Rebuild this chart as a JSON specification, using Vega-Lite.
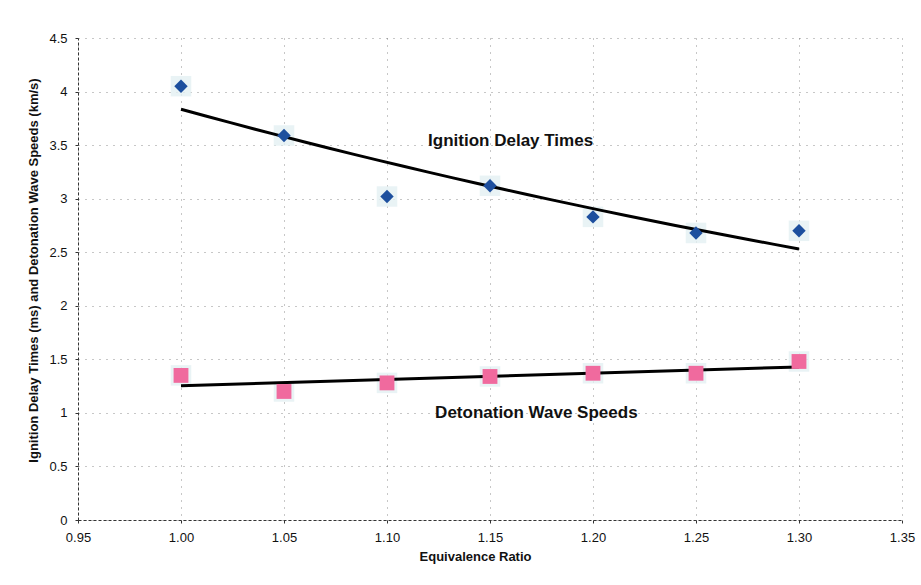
{
  "$schema": "https://vega.github.io/schema/vega-lite/v6.json",
  "width": 824,
  "height": 482,
  "autosize": "none",
  "padding": {"left": 78, "top": 38, "right": 19, "bottom": 65},
  "background": "white",
  "config": {
    "view": {"stroke": null},
    "font": "Liberation Sans",
    "axis": {
      "labelFont": "Liberation Sans",
      "titleFont": "Liberation Sans",
      "labelColor": "#111",
      "titleColor": "#111",
      "domainColor": "#333",
      "domainDash": [3, 2],
      "tickColor": "#333",
      "tickSize": 3,
      "gridColor": "#444",
      "gridDash": [1, 6],
      "gridOpacity": 0.6,
      "labelFontSize": 13,
      "titleFontSize": 13,
      "titleFontWeight": "bold"
    }
  },
  "datasets": {
    "pts": [
      {"ratio": 1.00, "value": 4.05, "series": "Ignition Delay Times"},
      {"ratio": 1.05, "value": 3.59, "series": "Ignition Delay Times"},
      {"ratio": 1.10, "value": 3.02, "series": "Ignition Delay Times"},
      {"ratio": 1.15, "value": 3.12, "series": "Ignition Delay Times"},
      {"ratio": 1.20, "value": 2.83, "series": "Ignition Delay Times"},
      {"ratio": 1.25, "value": 2.68, "series": "Ignition Delay Times"},
      {"ratio": 1.30, "value": 2.70, "series": "Ignition Delay Times"},
      {"ratio": 1.00, "value": 1.35, "series": "Detonation Wave Speeds"},
      {"ratio": 1.05, "value": 1.20, "series": "Detonation Wave Speeds"},
      {"ratio": 1.10, "value": 1.28, "series": "Detonation Wave Speeds"},
      {"ratio": 1.15, "value": 1.34, "series": "Detonation Wave Speeds"},
      {"ratio": 1.20, "value": 1.37, "series": "Detonation Wave Speeds"},
      {"ratio": 1.25, "value": 1.37, "series": "Detonation Wave Speeds"},
      {"ratio": 1.30, "value": 1.48, "series": "Detonation Wave Speeds"}
    ],
    "labels": [
      {"ratio": 1.16, "value": 3.54, "label": "Ignition Delay Times"},
      {"ratio": 1.1725, "value": 1.0, "label": "Detonation Wave Speeds"}
    ]
  },
  "encoding": {
    "x": {
      "field": "ratio", "type": "quantitative",
      "scale": {"domain": [0.95, 1.35], "nice": false, "zero": false},
      "axis": {"title": "Equivalence Ratio", "values": [0.95, 1.0, 1.05, 1.1, 1.15, 1.2, 1.25, 1.3, 1.35], "format": ".2f", "labelPadding": 8, "titlePadding": 6, "titleX": 397, "labelFlush": false}
    },
    "y": {
      "field": "value", "type": "quantitative",
      "scale": {"domain": [0, 4.5], "nice": false},
      "axis": {"title": "Ignition Delay Times (ms) and Detonation Wave Speeds (km/s)", "values": [0, 0.5, 1, 1.5, 2, 2.5, 3, 3.5, 4, 4.5], "format": ".1~f", "labelPadding": 8, "titlePadding": 8, "titleY": 232, "labelFlush": false}
    }
  },
  "layer": [
    {
      "data": {"name": "pts"},
      "mark": {"type": "square", "size": 420, "color": "#e4f0f2", "opacity": 0.8},
      "encoding": {}
    },
    {
      "data": {"name": "pts"},
      "transform": [
        {"filter": "datum.series === 'Ignition Delay Times'"},
        {"regression": "value", "on": "ratio", "method": "exp"}
      ],
      "mark": {"type": "line", "color": "#000", "strokeWidth": 3},
      "encoding": {}
    },
    {
      "data": {"name": "pts"},
      "transform": [
        {"filter": "datum.series === 'Detonation Wave Speeds'"},
        {"regression": "value", "on": "ratio", "method": "linear"}
      ],
      "mark": {"type": "line", "color": "#000", "strokeWidth": 3},
      "encoding": {}
    },
    {
      "data": {"name": "pts"},
      "transform": [{"filter": "datum.series === 'Ignition Delay Times'"}],
      "mark": {"type": "point", "shape": "diamond", "filled": true, "size": 180, "color": "#1d4f9e", "opacity": 1},
      "encoding": {}
    },
    {
      "data": {"name": "pts"},
      "transform": [{"filter": "datum.series === 'Detonation Wave Speeds'"}],
      "mark": {"type": "square", "filled": true, "size": 220, "color": "#f06a9e", "opacity": 1},
      "encoding": {}
    },
    {
      "data": {"name": "labels"},
      "mark": {"type": "text", "fontSize": 17, "fontWeight": "bold", "color": "#111", "align": "center", "baseline": "middle"},
      "encoding": {"text": {"field": "label"}}
    }
  ]
}
